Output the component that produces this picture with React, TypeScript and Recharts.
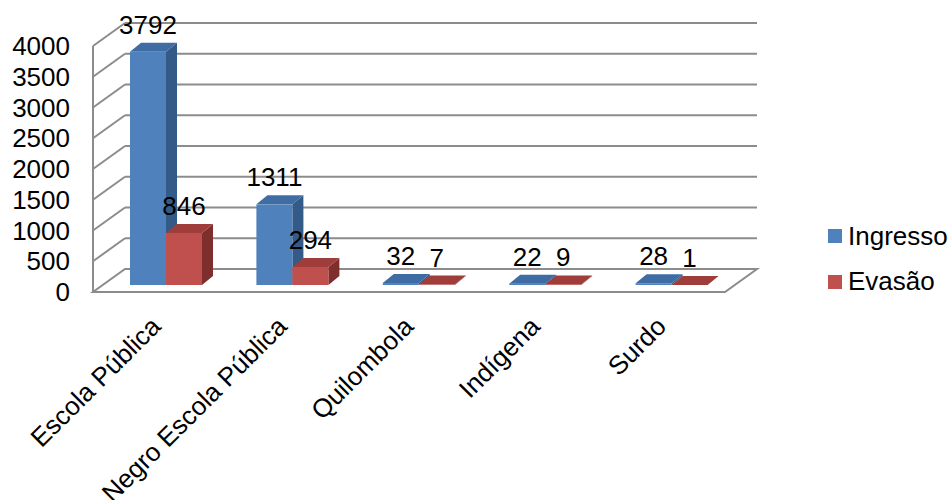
import React from "react";
import { BarChart, Bar, XAxis, YAxis, CartesianGrid, Legend, LabelList } from "recharts";

const categorias = ["Escola Pública", "Negro Escola Pública", "Quilombola", "Indígena", "Surdo"];
const ingresso = [3792, 1311, 32, 22, 28];
const evasao = [846, 294, 7, 9, 1];
const yTicks = [0, 500, 1000, 1500, 2000, 2500, 3000, 3500, 4000];

const data = categorias.map((cat, i) => ({ cat, ingresso: ingresso[i], evasao: evasao[i] }));

const FONT = '"Liberation Sans", Arial, sans-serif';
const GRID = "#8c8c8c";

// back wall depth (walls / floor) and where the columns sit inside it
const WALL_DX = 32;
const WALL_DY = -23;
const COL_SX = 10;
const COL_SY = -7;
const COL_DX = 11;
const COL_DY = -9;

const PLOT_BOTTOM = 292;

const faces = {
  ingresso: { front: "#4f81bd", top: "#3f6ca3", side: "#345a88" },
  evasao: { front: "#c0504d", top: "#9f3d3a", side: "#7e2f2d" },
};

function makeColumn(key: "ingresso" | "evasao") {
  const c = faces[key];
  return (props: any) => {
    const { x, y, width, height } = props;
    if (x == null || y == null) return null;
    const fx = x + COL_SX;
    const fy = y + COL_SY;
    const h = Math.max(height, 0);
    const top = `${fx},${fy} ${fx + width},${fy} ${fx + width + COL_DX},${fy + COL_DY} ${fx + COL_DX},${fy + COL_DY}`;
    const side = `${fx + width},${fy} ${fx + width + COL_DX},${fy + COL_DY} ${fx + width + COL_DX},${fy + h + COL_DY} ${fx + width},${fy + h}`;
    return (
      <g>
        <polygon points={side} fill={c.side} />
        <rect x={fx} y={fy} width={width} height={h} fill={c.front} />
        <polygon points={top} fill={c.top} />
      </g>
    );
  };
}

function GridLine(props: any) {
  const { x1, y1, x2 } = props;
  const bx1 = x1 + WALL_DX;
  const bx2 = x2 + WALL_DX;
  const by = y1 + WALL_DY;
  if (y1 >= PLOT_BOTTOM - 1) {
    return (
      <g key={props.key}>
        <polygon
          points={`${x1},${y1} ${x2},${y1} ${bx2},${by} ${bx1},${by}`}
          fill="#fff"
          stroke={GRID}
          strokeWidth={2}
        />
      </g>
    );
  }
  return (
    <g key={props.key}>
      <line x1={x1} y1={y1} x2={bx1} y2={by} stroke={GRID} strokeWidth={2} />
      <line x1={bx1} y1={by} x2={bx2} y2={by} stroke={GRID} strokeWidth={2} />
    </g>
  );
}

function CatTick(props: any) {
  const { x, y, payload } = props;
  return (
    <g transform={`translate(${x + 6},${y + 28}) rotate(-45)`}>
      <text x={0} y={0} textAnchor="end" fill="#000" fontSize={26} fontFamily={FONT}>
        {payload.value}
      </text>
    </g>
  );
}

function ValueLabel(props: any) {
  const vb = props.viewBox || props;
  const x = props.x ?? vb.x;
  const y = props.y ?? vb.y;
  const width = props.width ?? vb.width;
  if (x == null || y == null) return null;
  return (
    <text
      x={x + COL_SX + width / 2}
      y={y + COL_SY - 18}
      textAnchor="middle"
      fill="#000"
      fontSize={26}
      fontFamily={FONT}
    >
      {props.value}
    </text>
  );
}

function LegendBox() {
  const items = [
    { label: "Ingresso", color: faces.ingresso.front },
    { label: "Evasão", color: faces.evasao.front },
  ];
  return (
    <svg width={132} height={90}>
      {items.map((it, i) => (
        <g key={it.label}>
          <rect x={8} y={14 + i * 46} width={14} height={14} fill={it.color} />
          <text x={28} y={30 + i * 45} fontSize={26} fontFamily={FONT} fill="#000">
            {it.label}
          </text>
        </g>
      ))}
    </svg>
  );
}

export default function App() {
  return (
    <div style={{ position: "absolute", left: 0, top: 0, background: "#fff" }}>
      <BarChart
        width={952}
        height={500}
        data={data}
        margin={{ top: 46, right: 227, bottom: 0, left: 0 }}
        barSize={36}
        barGap={0}
      >
        <CartesianGrid vertical={false} horizontal={GridLine} />
        <XAxis dataKey="cat" height={208} axisLine={false} tickLine={false} tick={<CatTick />} interval={0} />
        <YAxis
          width={93}
          domain={[0, 4000]}
          ticks={yTicks}
          interval={0}
          axisLine={{ stroke: GRID, strokeWidth: 2 }}
          tickLine={false}
          tickSize={0}
          tickMargin={23}
          tick={{ fill: "#000", fontSize: 26, fontFamily: FONT }}
        />
        <Legend
          layout="vertical"
          align="center"
          verticalAlign="middle"
          wrapperStyle={{ left: 820, top: 215, width: 132, height: 90 }}
          content={<LegendBox />}
        />
        <Bar dataKey="ingresso" name="Ingresso" fill={faces.ingresso.front} shape={makeColumn("ingresso")} isAnimationActive={false}>
          <LabelList dataKey="ingresso" content={<ValueLabel />} />
        </Bar>
        <Bar dataKey="evasao" name="Evasão" fill={faces.evasao.front} shape={makeColumn("evasao")} isAnimationActive={false}>
          <LabelList dataKey="evasao" content={<ValueLabel />} />
        </Bar>
      </BarChart>
    </div>
  );
}
